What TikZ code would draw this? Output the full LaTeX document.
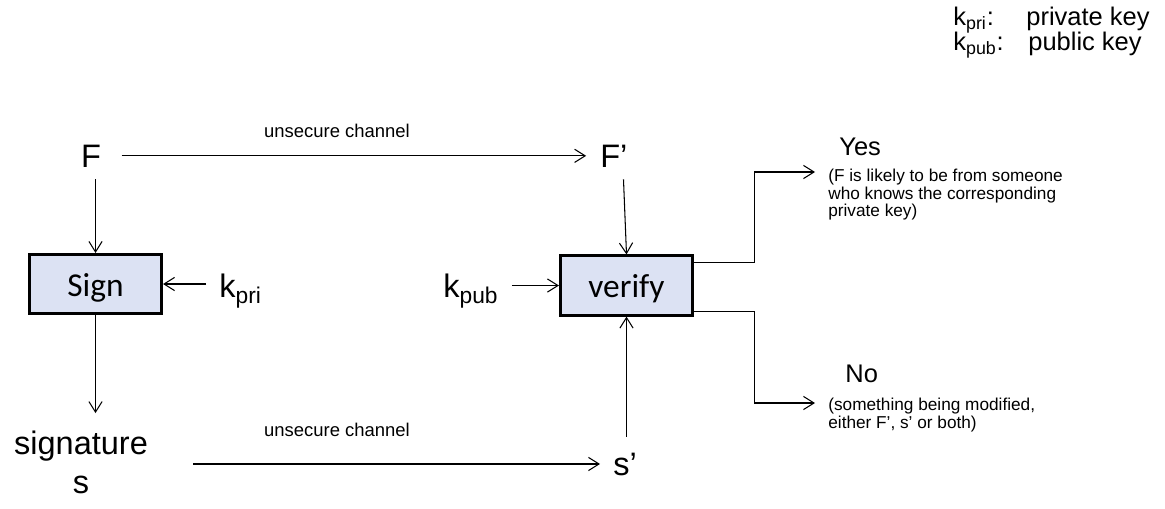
\documentclass[tikz,border=0pt]{standalone}
\usepackage{fontspec}
\setmainfont{Liberation Sans}
\newfontfamily\calibrifont{Carlito}
\usepackage{tikz}
\usetikzlibrary{arrows.meta,positioning,calc}
\definecolor{boxfill}{RGB}{220,226,243}

\begin{document}
\begin{tikzpicture}[
    x=0.02cm, y=-0.02cm,
    procbox/.style={rectangle, draw=black, line width=1.5pt, fill=boxfill, minimum width=2.65cm, minimum height=1.19cm, inner sep=0pt, text height=14pt, text depth=0pt, font=\calibrifont\fontsize{19}{22}\selectfont},
    biglabel/.style={inner sep=0pt, font=\fontsize{18.5}{22}\selectfont},
    chanlabel/.style={inner sep=0pt, anchor=base, font=\fontsize{10.5}{12}\selectfont},
    answer/.style={inner sep=0pt, anchor=base west, font=\fontsize{14.5}{16}\selectfont},
    note/.style={inner sep=0pt, anchor=north west, align=left, font=\fontsize{9.8}{9.8}\selectfont},
    legend/.style={inner sep=0pt, anchor=base west, font=\fontsize{14.5}{17}\selectfont},
    arrow/.style={-{Straight Barb[length=6pt,width=7.5pt]}, line width=0.6pt}
]
\useasboundingbox (0,0) rectangle (1165,508);

% Legend (top right)
\node[legend] (legpri) at (953,25) {k\textsubscript{pri}:};
\node[legend] (legprival) at (1026,25) {private key};
\node[legend] (legpub) at (953,50) {k\textsubscript{pub}:};
\node[legend] (legpubval) at (1028,50) {public key};

% Boxes
\node[procbox] (sign) at (95.5,284) {Sign};
\node[procbox] (verify) at (626.5,285.5) {verify};

% Inputs and outputs
\node[biglabel, anchor=base] (F) at (91,167) {F};
\node[biglabel, anchor=base west] (Fp) at (600,167) {F’};
\node[biglabel, anchor=base west] (kpri) at (219,297) {k\textsubscript{pri}};
\node[biglabel, anchor=base west] (kpub) at (443,297) {k\textsubscript{pub}};
\node[biglabel, anchor=north, align=center] (sig) at (81,431) {signature\\s};
\node[biglabel, anchor=base west] (sp) at (613,475) {s’};

% Channel labels
\node[chanlabel] (chantop) at (337,137) {unsecure channel};
\node[chanlabel] (chanbot) at (337,436) {unsecure channel};

% Results
\node[answer] (yes) at (839,155) {Yes};
\node[note] (yesnote) at (828,169) {(F is likely to be from someone\\who knows the corresponding\\private key)};
\node[answer] (no) at (845,382) {No};
\node[note] (nonote) at (828,398) {(something being modified,\\either F’, s’ or both)};
\coordinate (yesend) at (815,172);
\coordinate (noend) at (815,403);

% Arrows
\draw[arrow, shorten <=11.6pt, shorten >=7.9pt] (F) -- (Fp);
\draw[arrow, shorten <=6.8pt] (sign.north |- F.south) -- (sign.north);
\draw[arrow, shorten <=7.4pt] (sign.east -| kpri.west) -- (sign.east);
\draw[arrow, shorten >=10.2pt] (sign.south) -- (sign.south |- sig.north);
\draw[arrow, shorten <=25.5pt, shorten >=7.4pt] (sig.east |- sp.west) -- (sp.west);
\draw[arrow, shorten <=8.9pt] (verify.south |- sp.north) -- (verify.south);
\draw[arrow, shorten <=6.8pt] ($(Fp.south west)+(23,0)$) -- (verify.north);
\draw[arrow, shorten <=7.4pt] (verify.west -| kpub.east) -- (verify.west);
\draw[arrow] ($(verify.north east)+(0,8)$) -- ++(60,0) |- (yesend);
\draw[arrow] ($(verify.south east)+(0,-5)$) -- ++(60,0) |- (noend);

\end{tikzpicture}
\end{document}
